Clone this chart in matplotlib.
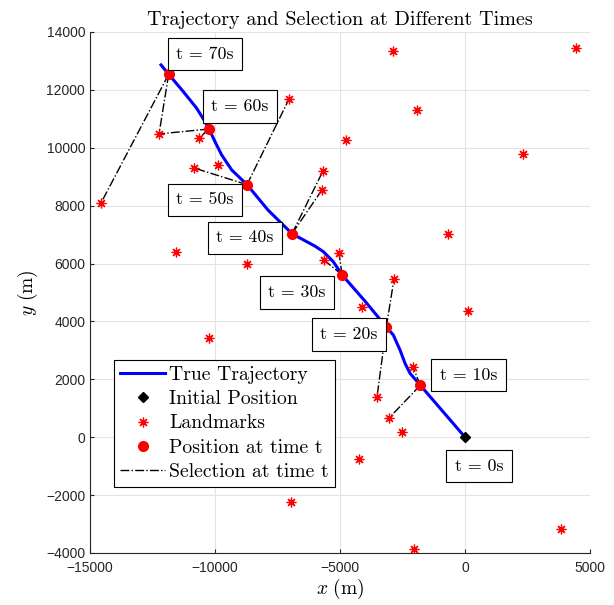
import matplotlib
matplotlib.use("Agg")
from matplotlib import pyplot as plt

plt.rcParams['mathtext.fontset'] = 'cm'
plt.rcParams['font.family'] = ['Liberation Sans', 'DejaVu Sans']

# True trajectory (m)
traj_x = [0, -1787, -2200, -2400, -2600, -2868, -3147, -4000, -4920, -5267, -5667,
          -6000, -6333, -6920, -7880, -8720, -9333, -9733, -10000, -10240, -10400,
          -10733, -11267, -11853, -12160]
traj_y = [0, 1793, 2208, 2553, 3013, 3531, 3807, 4700, 5610, 6063, 6410,
          6600, 6755, 7031, 7847, 8724, 9232, 9750, 10210, 10648, 10901,
          11363, 11937, 12538, 12860]

# Positions at t = 0, 10, ..., 70 s
times = [0, 10, 20, 30, 40, 50, 60, 70]
pos_x = [0, -1787, -3147, -4920, -6920, -8720, -10240, -11853]
pos_y = [0, 1793, 3807, 5610, 7031, 8724, 10648, 12538]

# Landmarks
lm_x = [-14560, -12240, -10640, -10840, -9880, -11560, -8720, -10240, -7040, -5680,
        -5720, -4760, -2880, -1920, 2320, 4440, -680, -5040, -5640, -4120,
        -2840, 120, -2080, -3520, -3040, -2520, -4240, -6960, -2040, 3840]
lm_y = [8092, 10476, 10338, 9301, 9405, 6400, 5984, 3427, 11680, 9198,
        8542, 10269, 13344, 11300, 9780, 13448, 7020, 6364, 6122, 4497,
        5465, 4350, 2425, 1389, 663, 180, -753, -2239, -3862, -3178]

# Landmarks selected at each time (indices into lm_x / lm_y)
selected = {10: [24, 22], 20: [20, 23], 30: [17, 18], 40: [9, 10],
            50: [8, 3], 60: [1, 2], 70: [0, 1]}

# Label box centres
label_x = [560, 140, -4640, -6720, -8800, -10400, -9000, -10400]
label_y = [-1000, 2150, 3550, 5000, 6890, 8200, 11430, 13240]

fig = plt.figure(figsize=(6.14, 6.05), dpi=100)
ax = fig.add_axes([0.1466, 0.086, 0.8143, 0.8612])

ax.plot(traj_x, traj_y, color='blue', lw=2.2, label='True Trajectory', zorder=3)
ax.plot(pos_x[0], pos_y[0], 'kD', ms=5, label='Initial Position', zorder=5)
ax.plot(lm_x, lm_y, ls='none', marker=(8, 2, 0), color='red', mec='red', ms=7,
        mew=0.9, label='Landmarks', zorder=4)
ax.plot(pos_x[1:], pos_y[1:], 'o', color='red', ms=7, label='Position at time t', zorder=5)

first = True
for i, t in enumerate(times):
    for k in selected.get(t, []):
        ax.plot([pos_x[i], lm_x[k]], [pos_y[i], lm_y[k]], 'k-.', lw=1,
                label='Selection at time t' if first else None, zorder=2)
        first = False

for t, lx, ly in zip(times, label_x, label_y):
    ax.text(lx, ly, f't = {t}s', family='cmr10', fontsize=12.8, ha='center', va='center',
            bbox=dict(boxstyle='square,pad=0.48', fc='white', ec='black', lw=0.8), zorder=6)

ax.set_xlim(-15000, 5000)
ax.set_ylim(-4000, 14000)
ax.set_xticks(range(-15000, 5001, 5000))
ax.set_yticks(range(-4000, 14001, 2000))
ax.grid(True, color='#e3e3e3', lw=0.8)
ax.set_axisbelow(True)
for s in ['top', 'right']:
    ax.spines[s].set_visible(False)
for s in ['left', 'bottom']:
    ax.spines[s].set_color('#262626')
ax.tick_params(direction='in', length=3, labelsize=10, colors='#262626')
ax.tick_params(axis='x', pad=6)

ax.set_xlabel(r'$x\ \mathrm{(m)}$', fontsize=14, labelpad=1)
ax.set_ylabel(r'$y\ \mathrm{(m)}$', fontsize=14, labelpad=4)
ax.set_title('Trajectory and Selection at Different Times', family='cmr10', fontsize=14.5, pad=5)

leg = ax.legend(loc='lower left', bbox_to_anchor=(0.048, 0.127), borderaxespad=0,
                prop={'family': 'cmr10', 'size': 14.2}, fancybox=False, framealpha=1,
                edgecolor='black', handlelength=2.3, handletextpad=0.2,
                labelspacing=0.32, borderpad=0.3)
leg.get_frame().set_linewidth(0.8)

fig.savefig('out.png', dpi=100)
